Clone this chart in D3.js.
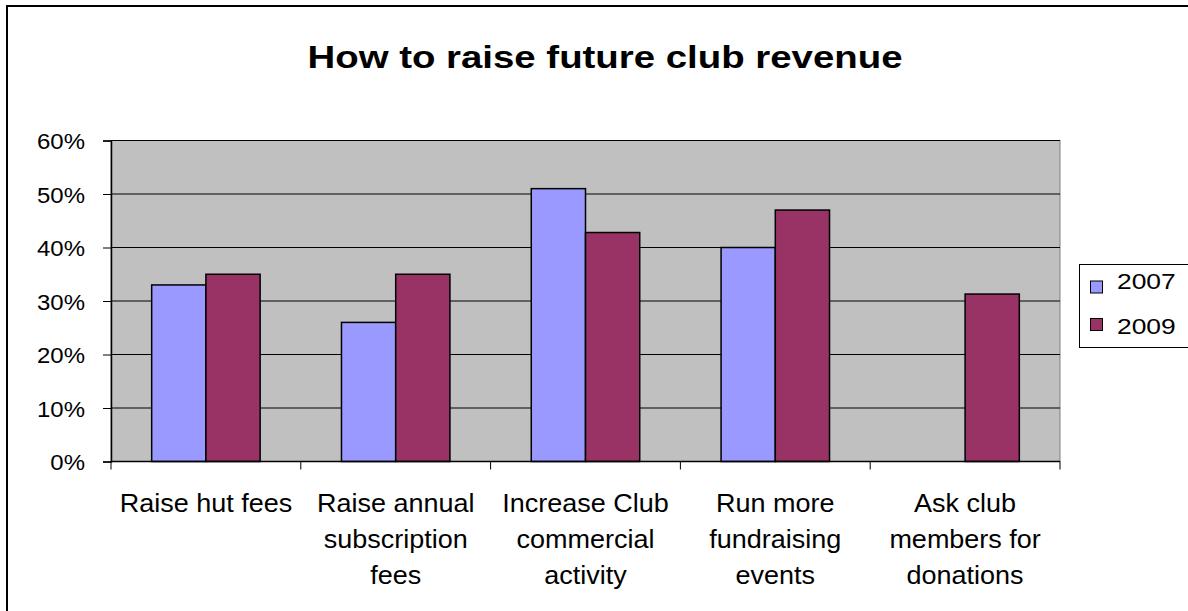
<!DOCTYPE html>
<html><head><meta charset="utf-8">
<script src="https://cdn.jsdelivr.net/npm/d3@7"></script>
<style>body{margin:0;background:#fff;} svg{display:block;font-family:"Liberation Sans",Arial,sans-serif;}</style>
</head><body>
<svg id="c" width="1188" height="611"></svg>
<script>
const title = "How to raise future club revenue";
const categories = [
  ["Raise hut fees"],
  ["Raise annual","subscription","fees"],
  ["Increase Club","commercial","activity"],
  ["Run more","fundraising","events"],
  ["Ask club","members for","donations"]
];
const seriesNames = ["2007","2009"];
const values2007 = [0.33, 0.26, 0.51, 0.40, null];
const values2009 = [0.35, 0.35, 0.428, 0.47, 0.313];
const yTicks = [0,0.1,0.2,0.3,0.4,0.5,0.6];
const colors = ["#9999FF","#993366"];

const svg = d3.select("#c");
svg.append("rect").attr("x",7).attr("y",6).attr("width",1200).attr("height",620)
  .attr("fill","#fff").attr("stroke","#000").attr("stroke-width",2);

svg.append("text").attr("transform","translate(605,68) scale(1.2,1)").attr("text-anchor","middle")
  .attr("font-size",32).attr("font-weight","bold").text(title);

const L=111, R=1060, T=140.5, B=461.5;
const x = d3.scaleBand().domain(d3.range(categories.length)).range([L,R]).paddingInner(0).paddingOuter(0);
const y = d3.scaleLinear().domain([0,0.6]).range([B,T]);

svg.append("rect").attr("x",L).attr("y",T).attr("width",R-L).attr("height",B-T)
  .attr("fill","#C0C0C0").attr("stroke","#808080").attr("stroke-width",1);

svg.append("g").selectAll("line").data(yTicks.filter(d=>d>0)).join("line")
  .attr("x1",L).attr("x2",R).attr("y1",d=>y(d)).attr("y2",d=>y(d))
  .attr("stroke","#000").attr("stroke-width",1);

const bw = x.bandwidth()/3.5;
const xs = d3.scaleBand().domain([0,1]).range([0, 2*bw]);
const data = [values2007, values2009];
data.forEach((vals,si)=>{
  svg.append("g").selectAll("rect").data(vals.map((v,i)=>({v,i})).filter(d=>d.v!=null)).join("rect")
    .attr("x",d=>x(d.i)+0.75*bw+xs(si)).attr("width",bw)
    .attr("y",d=>y(d.v)).attr("height",d=>B-y(d.v))
    .attr("fill",colors[si]).attr("stroke","#000").attr("stroke-width",1.5);
});

// y axis
const yAxis = svg.append("g").attr("transform",`translate(${L},0)`)
  .call(d3.axisLeft(y).tickValues(yTicks).tickFormat(d3.format(".0%")).tickSize(8).tickPadding(0));
yAxis.select(".domain").attr("stroke","#000").attr("stroke-width",1.5);
yAxis.selectAll("line").attr("stroke","#000");
yAxis.selectAll("text").attr("x",null).attr("dy",null).attr("font-size",22).attr("fill","#000")
  .attr("font-family","Liberation Sans, Arial, sans-serif")
  .attr("transform","translate(-26,8) scale(1.09,1)");

// x axis
svg.append("line").attr("x1",L).attr("x2",R).attr("y1",B).attr("y2",B).attr("stroke","#000").attr("stroke-width",1.5);
const bounds = d3.range(categories.length+1).map(i=> i<categories.length? x(i): R);
svg.append("g").selectAll("line").data(bounds).join("line")
  .attr("x1",d=>d).attr("x2",d=>d).attr("y1",B).attr("y2",B+8).attr("stroke","#000");

const lab = svg.append("g").selectAll("text").data(categories).join("text")
  .attr("text-anchor","middle").attr("font-size",25)
  .attr("transform",(d,i)=>`translate(${x(i)+x.bandwidth()/2},0) scale(1.08,1)`);
lab.selectAll("tspan").data(d=>d).join("tspan").attr("x",0).attr("y",(d,j)=>512+j*36).text(d=>d);

// legend
const lg = svg.append("g");
lg.append("rect").attr("x",1079.5).attr("y",264.5).attr("width",120).attr("height",83)
  .attr("fill","#fff").attr("stroke","#000").attr("stroke-width",1);
seriesNames.forEach((s,i)=>{
  lg.append("rect").attr("x",1090.5).attr("y",281+i*37.5).attr("width",12).attr("height",12)
    .attr("fill",colors[i]).attr("stroke","#000").attr("stroke-width",1);
  lg.append("text").attr("transform",`translate(1117,${289+i*45}) scale(1.2,1)`).attr("font-size",22).text(s);
});
</script>
</body></html>
